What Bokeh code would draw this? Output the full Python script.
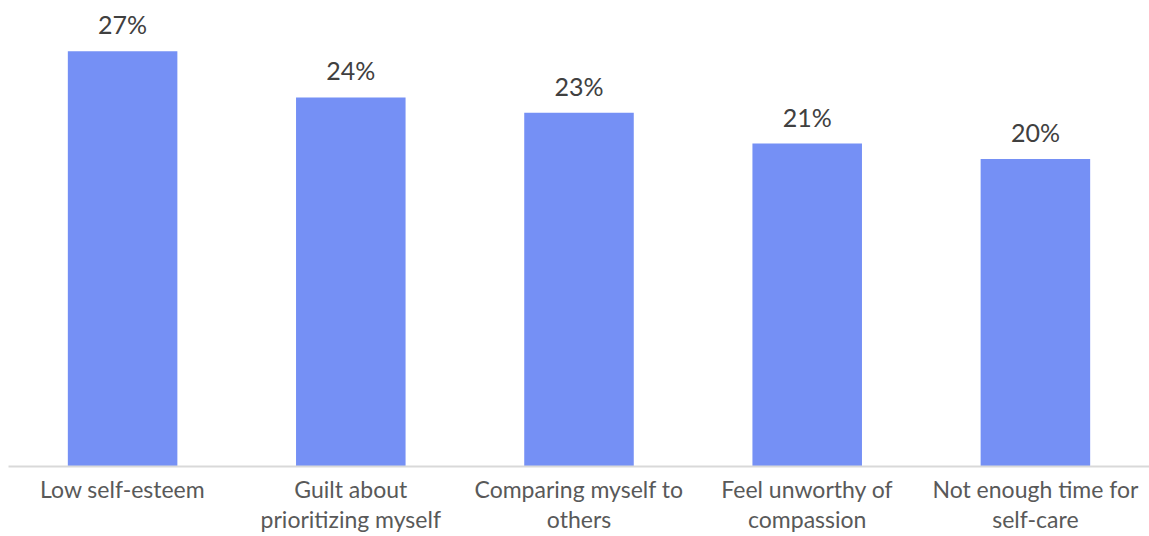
from bokeh.plotting import figure
from bokeh.models import ColumnDataSource, FactorRange, Range1d
from bokeh.core.properties import value
from bokeh.embed import file_html
from bokeh.resources import INLINE

categories = ["Low self-esteem", "Guilt about\nprioritizing myself", "Comparing myself to\nothers",
              "Feel unworthy of\ncompassion", "Not enough time for\nself-care"]
values = [27, 24, 23, 21, 20]
labels = [f"{v}%" for v in values]

FONT = "Lato"
source = ColumnDataSource(dict(cat=categories, val=values, lab=labels))

p = figure(x_range=FactorRange(*categories, range_padding=0), y_range=Range1d(0, 30.3),
           width=1149, height=536, output_backend="svg", toolbar_location=None,
           min_border_left=8, min_border_right=0, min_border_top=0, min_border_bottom=69)
p.vbar(x="cat", top="val", width=0.48, source=source, color="#7590F5", line_color=None)
p.text(x="cat", y="val", text="lab", source=source, text_align="center", text_baseline="bottom",
       y_offset=-12, text_font=value(FONT), text_font_size="25px", text_color="#404040")

p.yaxis.visible = False
p.grid.visible = False
p.outline_line_color = None
xa = p.xaxis[0]
xa.axis_line_color = "#D9D9D9"
xa.axis_line_width = 2
xa.major_tick_line_color = None
xa.minor_tick_line_color = None
xa.major_tick_out = 0
xa.major_tick_in = 0
xa.major_label_text_font = FONT
xa.major_label_text_font_size = "23px"
xa.major_label_text_color = "#595959"
xa.major_label_standoff = 8
xa.major_label_text_line_height = 1.1

open("out.html", "w").write(file_html(p, INLINE))
